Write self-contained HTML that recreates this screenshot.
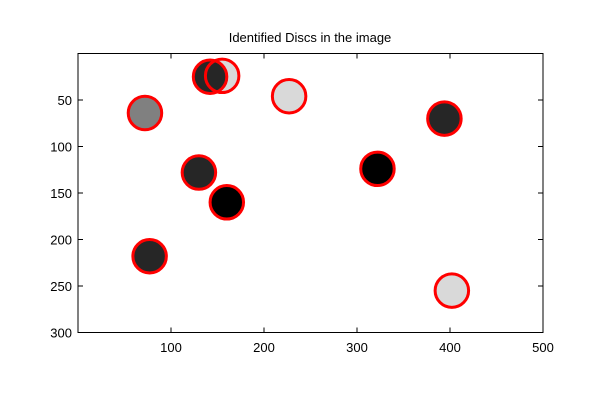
<!DOCTYPE html>
<html><head><meta charset="utf-8"><style>
body{margin:0;background:#fff}
svg{display:block;font-family:"Liberation Sans",sans-serif}
</style></head><body>
<svg id="chart" width="600" height="400">
<rect width="600" height="400" fill="#fff"/>
<text x="310" y="42" font-size="13" text-anchor="middle">Identified Discs in the image</text>
<g id="discs"></g>
<rect x="78" y="53.5" width="465" height="279" fill="none" stroke="#000" stroke-width="1"/>
<g id="axes"></g>
</svg>
<script>
const discX=[155,227,402,72,142,394,130,160,322,77];
const discY=[24,46,255,64,25,70,128,160,124,218];
const discShade=["#d9d9d9","#d9d9d9","#d9d9d9","#808080","#262626","#262626","#262626","#000000","#000000","#262626"];
const discR=[18,18,18,18,18,18,18,18,18,18];
const xTicks=[100,200,300,400,500];
const yTicks=[50,100,150,200,250,300];
const X0=78,Y0=53.5,S=0.93;
const sx=v=>X0+v*S, sy=v=>Y0+v*S;
const NS="http://www.w3.org/2000/svg";
const g=document.getElementById('discs');
const mk=(t,a)=>{const e=document.createElementNS(NS,t);for(const k in a)e.setAttribute(k,a[k]);return e;};
discX.forEach((x,i)=>{
  const c=mk('circle',{cx:sx(x),cy:sy(discY[i]),r:discR[i]*S-1,fill:discShade[i]});
  
  
  g.appendChild(c);
});
discX.forEach((x,i)=>{
  const c=mk('circle',{cx:sx(x),cy:sy(discY[i]),r:discR[i]*S,fill:'none',stroke:'#ff0000','stroke-width':3});
  
  
  g.appendChild(c);
});
const ax=document.getElementById('axes');
xTicks.forEach(v=>{
  const x=sx(v);
  [[332.5,327.5],[53.5,58.5]].forEach(p=>{const l=mk('line',{x1:x,x2:x,y1:p[0],y2:p[1],stroke:'#000'});ax.appendChild(l);});
  const t=mk('text',{x:x,y:352,'font-size':13,'text-anchor':'middle'});t.textContent=v;
  
  
  ax.appendChild(t);
});
yTicks.forEach(v=>{
  const y=sy(v);
  [[78,83],[543,538]].forEach(p=>{const l=mk('line',{x1:p[0],x2:p[1],y1:y,y2:y,stroke:'#000'});ax.appendChild(l);});
  const t=mk('text',{x:72,y:y+5,'font-size':13,'text-anchor':'end'});t.textContent=v;
  
  
  ax.appendChild(t);
});
</script>
</body></html>
